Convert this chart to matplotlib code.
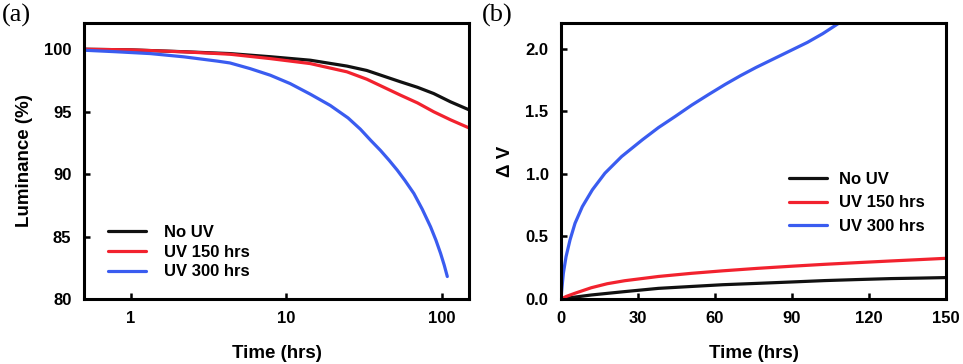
import matplotlib.pyplot as plt

# panel (a): luminance (%) vs time (hrs), log x
t_a_black = [0.5, 1, 2.2, 4.35, 7.9, 14.3, 24.6, 33, 54.4, 70, 89, 114, 150]
lum_black = [100, 99.95, 99.8, 99.65, 99.4, 99.12, 98.65, 98.3, 97.39, 96.95, 96.45,
             95.79, 95.15]
t_a_red = [0.5, 1, 2.2, 4.35, 7.9, 14.3, 24.6, 33, 54.4, 70, 89, 114, 150]
lum_red = [100, 99.95, 99.79, 99.6, 99.25, 98.85, 98.19, 97.6, 96.32, 95.7, 94.99,
           94.35, 93.7]
t_a_blue = [0.5, 0.8, 1.34, 2.2, 3.6, 4.35, 5.85, 7.9, 10.6, 14.3, 19.2, 25, 30, 35,
            40.4, 46, 51.8, 58, 66.3, 75, 84.9, 92, 98.5, 104, 108.8]
lum_blue = [99.92, 99.8, 99.65, 99.39, 99.05, 98.9, 98.45, 97.92, 97.25, 96.4, 95.5,
            94.5, 93.6, 92.7, 91.9, 91.1, 90.32, 89.5, 88.45, 87.2, 85.78, 84.7, 83.65,
            82.7, 81.8]

# panel (b): delta V vs time (hrs)
t_b_black = [0, 5, 11.8, 24.8, 38, 50.8, 63, 76.7, 90, 102.7, 115, 128.7, 140, 150]
dv_black = [0, 0.014, 0.032, 0.059, 0.085, 0.1, 0.114, 0.125, 0.136, 0.147, 0.155,
            0.163, 0.167, 0.171]
t_b_red = [0, 2, 5.3, 11.8, 18, 24.8, 38, 50.8, 63, 76.7, 90, 102.7, 115, 128.7, 140, 150]
dv_red = [0, 0.02, 0.045, 0.09, 0.122, 0.146, 0.18, 0.205, 0.225, 0.245, 0.262, 0.277,
          0.29, 0.304, 0.315, 0.325]
t_b_blue = [0, 0.27, 0.9, 1.95, 3.5, 5.45, 8.3, 12.2, 17.1, 23.6, 31.7, 38, 44.6, 51,
            57.6, 64, 70, 76, 83, 90, 96, 102, 108]
dv_blue = [0, 0.072, 0.205, 0.338, 0.472, 0.605, 0.738, 0.872, 1.005, 1.138, 1.272,
           1.37, 1.46, 1.55, 1.635, 1.715, 1.785, 1.85, 1.92, 1.99, 2.05, 2.12, 2.2]

labels = ['No UV', 'UV 150 hrs', 'UV 300 hrs']
colors = ['#111111', '#f2222e', '#3a5cf0']

plt.rcParams['font.family'] = 'Liberation Sans'
plt.rcParams['font.weight'] = 'bold'

fig = plt.figure(figsize=(9.63, 3.64), dpi=100)
ax1 = fig.add_axes([0.0872, 0.1786, 0.3998, 0.7582])
ax2 = fig.add_axes([0.5826, 0.1786, 0.3997, 0.7582])

lw = 2.3
for x, y, c, lab in [(t_a_black, lum_black, colors[0], labels[0]),
                     (t_a_red, lum_red, colors[1], labels[1]),
                     (t_a_blue, lum_blue, colors[2], labels[2])]:
    ax1.plot(x, y, color=c, lw=lw, label=lab, solid_capstyle='round')
ax1.set_xscale('log')
ax1.set_xlim(0.5, 150)
ax1.set_ylim(80, 102.1)
ax1.set_xticks([1, 10, 100])
ax1.set_xticklabels(['1', '10', '100'])
ax1.minorticks_off()
ax1.set_yticks([80, 85, 90, 95, 100])
ax1.set_xlabel('Time (hrs)', fontsize=13.5, fontweight='bold', labelpad=13)
ax1.set_ylabel('Luminance (%)', fontsize=13.5, fontweight='bold', labelpad=8)
ax1.legend(loc='upper left', bbox_to_anchor=(0.04, 0.298), frameon=False, fontsize=12,
           handlelength=2.3, handletextpad=1.1, labelspacing=0.28, borderpad=0)

for x, y, c, lab in [(t_b_black, dv_black, colors[0], labels[0]),
                     (t_b_red, dv_red, colors[1], labels[1]),
                     (t_b_blue, dv_blue, colors[2], labels[2])]:
    ax2.plot(x, y, color=c, lw=lw, label=lab, solid_capstyle='round')
ax2.set_xlim(0, 150)
ax2.set_ylim(0, 2.205)
ax2.set_xticks([0, 30, 60, 90, 120, 150])
ax2.set_yticks([0.0, 0.5, 1.0, 1.5, 2.0])
ax2.set_yticklabels(['0.0', '0.5', '1.0', '1.5', '2.0'])
ax2.set_xlabel('Time (hrs)', fontsize=13.5, fontweight='bold', labelpad=13)
ax2.set_ylabel('\u0394 V', fontsize=13.5, fontweight='bold', labelpad=8)
ax2.legend(loc='upper left', bbox_to_anchor=(0.57, 0.49), frameon=False, fontsize=12,
           handlelength=2.3, handletextpad=0.7, labelspacing=0.5, borderpad=0)

for ax in (ax1, ax2):
    for s in ax.spines.values():
        s.set_linewidth(2.2)
    ax.tick_params(direction='in', length=4, width=1.8, labelsize=12, pad=9)

fig.text(0.002, 0.99, '(a)', family='Liberation Serif', fontsize=19, fontweight='normal', va='top')
fig.text(0.5, 0.99, '(b)', family='Liberation Serif', fontsize=19, fontweight='normal', va='top')

fig.savefig('out.png', dpi=100)
